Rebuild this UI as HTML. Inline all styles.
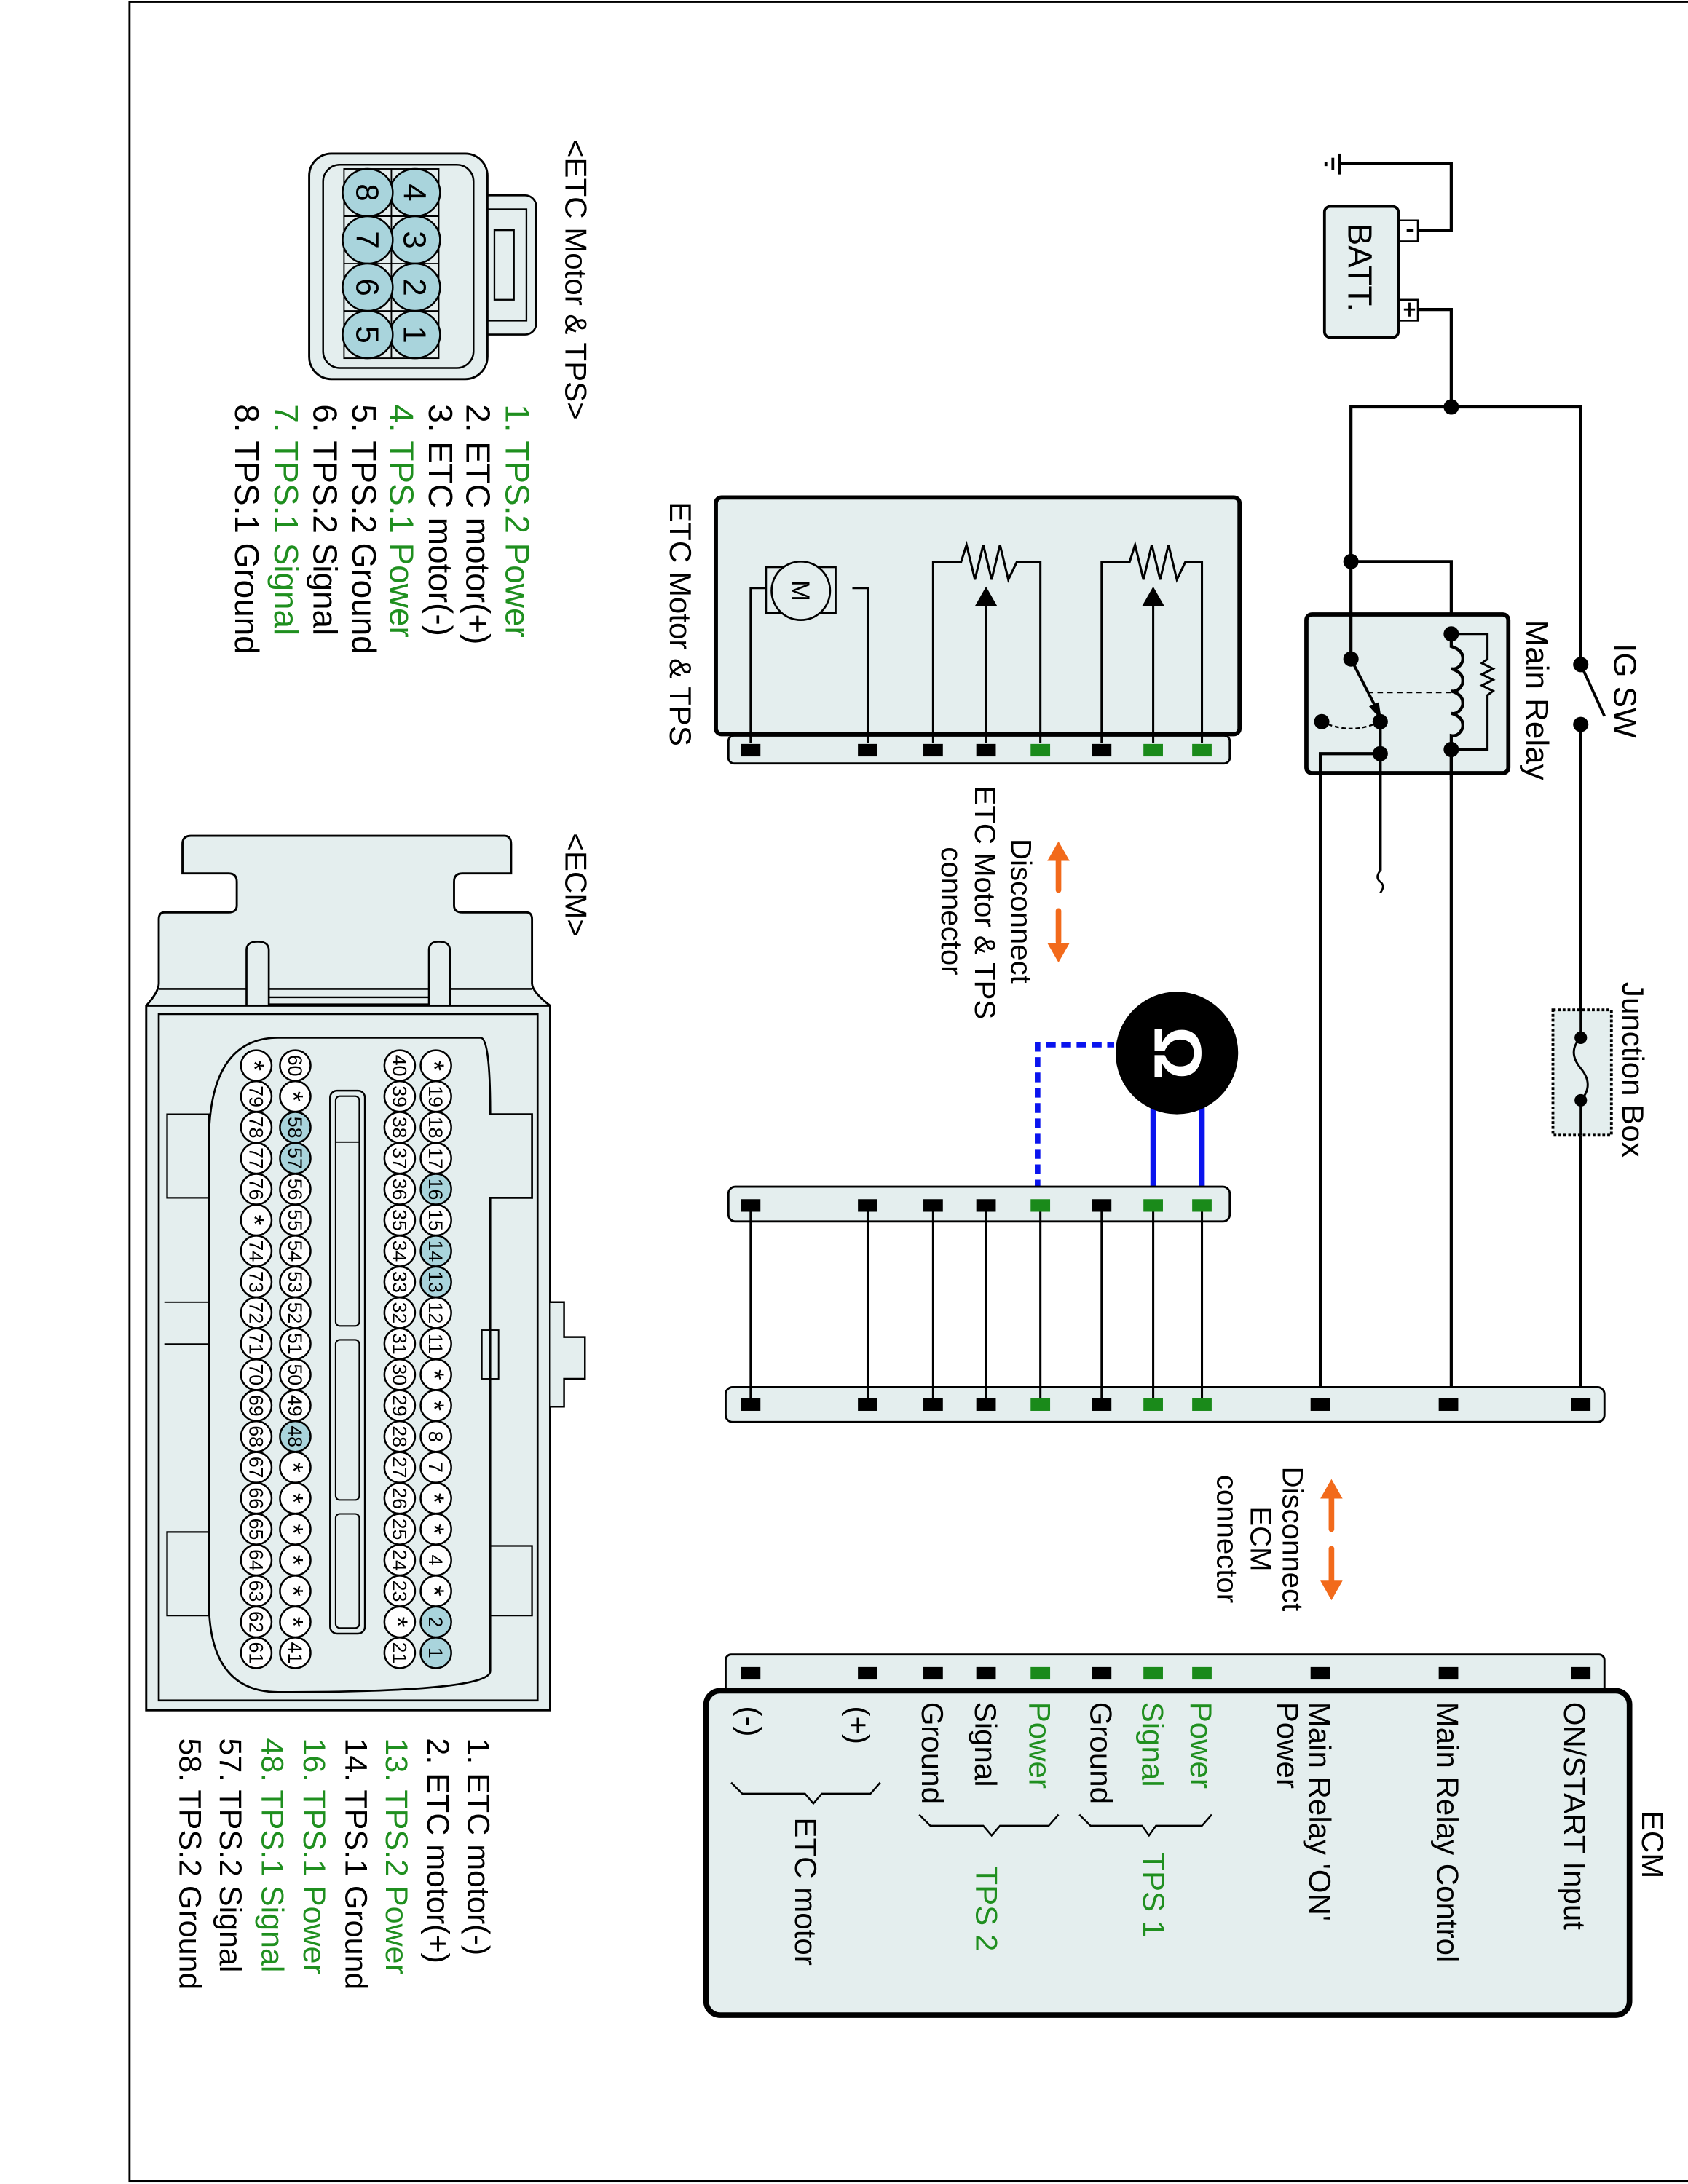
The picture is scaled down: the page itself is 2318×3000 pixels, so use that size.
<!DOCTYPE html>
<html><head><meta charset="utf-8"><style>
html,body{margin:0;padding:0;background:#fff}
svg{display:block}
text{font-family:"Liberation Sans",Arial,sans-serif;fill:#000}
.g{fill:#1f8f1f}
.pn{font-size:14px;text-anchor:middle}
.w{stroke:#000;stroke-width:1.6;fill:none}
.W{stroke:#000;stroke-width:2.2;fill:none}
.bx{fill:#e4eeee;stroke:#000}
</style></head><body>
<svg width="2318" height="3000" viewBox="0 0 1212 1568" xmlns="http://www.w3.org/2000/svg">
<rect x="0" y="0" width="1212" height="1568" fill="#fff"/>
<rect x="93" y="1" width="1130" height="1565" fill="none" stroke="#000" stroke-width="1.5"/>

<!-- ===== ETC connector pictorial ===== -->
<text transform="translate(406,100) rotate(90)" font-size="22">&lt;ETC Motor &amp; TPS&gt;</text>
<rect x="340" y="140" width="45" height="100" rx="8" class="bx" stroke-width="1.4"/>
<rect x="350" y="150" width="28" height="80" fill="none" stroke="#000" stroke-width="1.2"/>
<rect x="355" y="165" width="14" height="50" fill="none" stroke="#000" stroke-width="1.2"/>
<rect x="222" y="110" width="128" height="162" rx="16" class="bx" stroke-width="1.5"/>
<rect x="232" y="118" width="108" height="146" rx="12" fill="none" stroke="#000" stroke-width="1.3"/>
<rect x="247" y="121" width="68" height="136" fill="none" stroke="#000" stroke-width="1"/>
<line x1="281" y1="121" x2="281" y2="257" stroke="#000"/>
<line x1="247" y1="155" x2="315" y2="155" stroke="#000"/>
<line x1="247" y1="189" x2="315" y2="189" stroke="#000"/>
<line x1="247" y1="223" x2="315" y2="223" stroke="#000"/>
<g fill="#a9d4dc" stroke="#000" stroke-width="1.3">
<ellipse cx="298" cy="138" rx="18" ry="17"/><ellipse cx="298" cy="172" rx="18" ry="17"/><ellipse cx="298" cy="206" rx="18" ry="17"/><ellipse cx="298" cy="240" rx="18" ry="17"/>
<ellipse cx="264" cy="138" rx="18" ry="17"/><ellipse cx="264" cy="172" rx="18" ry="17"/><ellipse cx="264" cy="206" rx="18" ry="17"/><ellipse cx="264" cy="240" rx="18" ry="17"/>
</g>
<g font-size="23" text-anchor="middle">
<text transform="translate(298,138) rotate(90)" dy="8">4</text><text transform="translate(298,172) rotate(90)" dy="8">3</text><text transform="translate(298,206) rotate(90)" dy="8">2</text><text transform="translate(298,240) rotate(90)" dy="8">1</text>
<text transform="translate(264,138) rotate(90)" dy="8">8</text><text transform="translate(264,172) rotate(90)" dy="8">7</text><text transform="translate(264,206) rotate(90)" dy="8">6</text><text transform="translate(264,240) rotate(90)" dy="8">5</text>
</g>
<g font-size="24">
<text class="g" transform="translate(363,290) rotate(90)">1. TPS.2 Power</text>
<text transform="translate(335,290) rotate(90)">2. ETC motor(+)</text>
<text transform="translate(308,290) rotate(90)">3. ETC motor(-)</text>
<text class="g" transform="translate(280,290) rotate(90)">4. TPS.1 Power</text>
<text transform="translate(253,290) rotate(90)">5. TPS.2 Ground</text>
<text transform="translate(225,290) rotate(90)">6. TPS.2 Signal</text>
<text class="g" transform="translate(197,290) rotate(90)">7. TPS.1 Signal</text>
<text transform="translate(169,290) rotate(90)">8. TPS.1 Ground</text>
</g>

<!-- ===== ECM connector pictorial ===== -->
<text transform="translate(406,598) rotate(90)" font-size="22">&lt;ECM&gt;</text>
<path d="M137,600 H362 Q367,600 367,606 V627 H332 Q326,627 326,633 V650 Q326,655 332,655 H378 Q382,655 382,660 V706 Q382,712 395,722 V1228 H105 V722 Q114,712 114,706 V660 Q114,655 118,655 H164 Q170,655 170,650 V633 Q170,627 164,627 H131 V606 Q131,600 137,600 Z" class="bx" stroke-width="1.5"/>
<line x1="114" y1="710" x2="382" y2="710" stroke="#000" stroke-width="1.4"/>
<line x1="193" y1="716" x2="308" y2="716" stroke="#000" stroke-width="1.2"/>
<line x1="193" y1="721" x2="308" y2="721" stroke="#000" stroke-width="1.2"/>
<path d="M177,722 V682 Q177,676 185,676 Q193,676 193,682 V722" class="bx" stroke-width="1.4"/>
<path d="M308,722 V682 Q308,676 315,676 Q323,676 323,682 V722" class="bx" stroke-width="1.4"/>
<rect x="105" y="722" width="290" height="506" class="bx" stroke-width="1.5"/>
<rect x="114" y="728" width="272" height="493" fill="none" stroke="#000" stroke-width="1.4"/>
<path d="M395,935 H405 V960 H420 V990 H405 V1010 H395" class="bx" stroke-width="1.3"/>
<path d="M345,745 Q352,745 352,800 H382 V860 H352 V1200 Q352,1215 200,1215 Q150,1215 150,1150 V820 Q150,745 200,745 Z" fill="none" stroke="#000" stroke-width="1.4"/>
<path d="M120,800 H150 V860 H120 Z M120,1100 H150 V1160 H120 Z M352,1110 H382 V1160 H352 Z" fill="none" stroke="#000" stroke-width="1.2"/>
<path d="M118,935 H150 V965 H118" fill="none" stroke="#000" stroke-width="1"/>
<rect x="346" y="955" width="12" height="35" fill="none" stroke="#000" stroke-width="1"/>
<rect x="237" y="783" width="25" height="390" rx="5" fill="none" stroke="#000" stroke-width="1.3"/>
<rect x="241" y="787" width="17" height="165" rx="3" fill="none" stroke="#000" stroke-width="1.1"/>
<rect x="241" y="962" width="17" height="115" rx="3" fill="none" stroke="#000" stroke-width="1.1"/>
<rect x="241" y="1087" width="17" height="82" rx="3" fill="none" stroke="#000" stroke-width="1.1"/>
<line x1="241" y1="820" x2="258" y2="820" stroke="#000"/>

<g stroke="#000" stroke-width="1.3">
<g fill="#fff"><circle cx="313" cy="765" r="11"/><circle cx="313" cy="787.2" r="11"/><circle cx="313" cy="809.4" r="11"/><circle cx="313" cy="831.6" r="11"/></g>
<circle cx="313" cy="853.8" r="11" fill="#a9d4dc"/><circle cx="313" cy="876" r="11" fill="#fff"/>
<circle cx="313" cy="898.2" r="11" fill="#a9d4dc"/><circle cx="313" cy="920.4" r="11" fill="#a9d4dc"/>
<g fill="#fff"><circle cx="313" cy="942.6" r="11"/><circle cx="313" cy="964.8" r="11"/><circle cx="313" cy="987" r="11"/><circle cx="313" cy="1009.2" r="11"/><circle cx="313" cy="1031.4" r="11"/><circle cx="313" cy="1053.6" r="11"/><circle cx="313" cy="1075.8" r="11"/><circle cx="313" cy="1098" r="11"/><circle cx="313" cy="1120.2" r="11"/><circle cx="313" cy="1142.4" r="11"/></g>
<circle cx="313" cy="1164.6" r="11" fill="#a9d4dc"/><circle cx="313" cy="1186.8" r="11" fill="#a9d4dc"/>
<g fill="#fff"><circle cx="287" cy="765" r="11"/><circle cx="287" cy="787.2" r="11"/><circle cx="287" cy="809.4" r="11"/><circle cx="287" cy="831.6" r="11"/><circle cx="287" cy="853.8" r="11"/><circle cx="287" cy="876" r="11"/><circle cx="287" cy="898.2" r="11"/><circle cx="287" cy="920.4" r="11"/><circle cx="287" cy="942.6" r="11"/><circle cx="287" cy="964.8" r="11"/><circle cx="287" cy="987" r="11"/><circle cx="287" cy="1009.2" r="11"/><circle cx="287" cy="1031.4" r="11"/><circle cx="287" cy="1053.6" r="11"/><circle cx="287" cy="1075.8" r="11"/><circle cx="287" cy="1098" r="11"/><circle cx="287" cy="1120.2" r="11"/><circle cx="287" cy="1142.4" r="11"/><circle cx="287" cy="1164.6" r="11"/><circle cx="287" cy="1186.8" r="11"/></g>
<g fill="#fff"><circle cx="212" cy="765" r="11"/><circle cx="212" cy="787.2" r="11"/></g>
<circle cx="212" cy="809.4" r="11" fill="#a9d4dc"/><circle cx="212" cy="831.6" r="11" fill="#a9d4dc"/>
<g fill="#fff"><circle cx="212" cy="853.8" r="11"/><circle cx="212" cy="876" r="11"/><circle cx="212" cy="898.2" r="11"/><circle cx="212" cy="920.4" r="11"/><circle cx="212" cy="942.6" r="11"/><circle cx="212" cy="964.8" r="11"/><circle cx="212" cy="987" r="11"/><circle cx="212" cy="1009.2" r="11"/></g>
<circle cx="212" cy="1031.4" r="11" fill="#a9d4dc"/>
<g fill="#fff"><circle cx="212" cy="1053.6" r="11"/><circle cx="212" cy="1075.8" r="11"/><circle cx="212" cy="1098" r="11"/><circle cx="212" cy="1120.2" r="11"/><circle cx="212" cy="1142.4" r="11"/><circle cx="212" cy="1164.6" r="11"/><circle cx="212" cy="1186.8" r="11"/></g>
<g fill="#fff"><circle cx="184" cy="765" r="11"/><circle cx="184" cy="787.2" r="11"/><circle cx="184" cy="809.4" r="11"/><circle cx="184" cy="831.6" r="11"/><circle cx="184" cy="853.8" r="11"/><circle cx="184" cy="876" r="11"/><circle cx="184" cy="898.2" r="11"/><circle cx="184" cy="920.4" r="11"/><circle cx="184" cy="942.6" r="11"/><circle cx="184" cy="964.8" r="11"/><circle cx="184" cy="987" r="11"/><circle cx="184" cy="1009.2" r="11"/><circle cx="184" cy="1031.4" r="11"/><circle cx="184" cy="1053.6" r="11"/><circle cx="184" cy="1075.8" r="11"/><circle cx="184" cy="1098" r="11"/><circle cx="184" cy="1120.2" r="11"/><circle cx="184" cy="1142.4" r="11"/><circle cx="184" cy="1164.6" r="11"/><circle cx="184" cy="1186.8" r="11"/></g>
</g>
<g class="pn">
<text transform="translate(313,765) rotate(90)" dy="8" font-size="20">*</text><text transform="translate(313,787.2) rotate(90)" dy="5">19</text><text transform="translate(313,809.4) rotate(90)" dy="5">18</text><text transform="translate(313,831.6) rotate(90)" dy="5">17</text><text transform="translate(313,853.8) rotate(90)" dy="5">16</text><text transform="translate(313,876) rotate(90)" dy="5">15</text><text transform="translate(313,898.2) rotate(90)" dy="5">14</text><text transform="translate(313,920.4) rotate(90)" dy="5">13</text><text transform="translate(313,942.6) rotate(90)" dy="5">12</text><text transform="translate(313,964.8) rotate(90)" dy="5">11</text><text transform="translate(313,987) rotate(90)" dy="8" font-size="20">*</text><text transform="translate(313,1009.2) rotate(90)" dy="8" font-size="20">*</text><text transform="translate(313,1031.4) rotate(90)" dy="5">8</text><text transform="translate(313,1053.6) rotate(90)" dy="5">7</text><text transform="translate(313,1075.8) rotate(90)" dy="8" font-size="20">*</text><text transform="translate(313,1098) rotate(90)" dy="8" font-size="20">*</text><text transform="translate(313,1120.2) rotate(90)" dy="5">4</text><text transform="translate(313,1142.4) rotate(90)" dy="8" font-size="20">*</text><text transform="translate(313,1164.6) rotate(90)" dy="5">2</text><text transform="translate(313,1186.8) rotate(90)" dy="5">1</text>
<text transform="translate(287,765) rotate(90)" dy="5">40</text><text transform="translate(287,787.2) rotate(90)" dy="5">39</text><text transform="translate(287,809.4) rotate(90)" dy="5">38</text><text transform="translate(287,831.6) rotate(90)" dy="5">37</text><text transform="translate(287,853.8) rotate(90)" dy="5">36</text><text transform="translate(287,876) rotate(90)" dy="5">35</text><text transform="translate(287,898.2) rotate(90)" dy="5">34</text><text transform="translate(287,920.4) rotate(90)" dy="5">33</text><text transform="translate(287,942.6) rotate(90)" dy="5">32</text><text transform="translate(287,964.8) rotate(90)" dy="5">31</text><text transform="translate(287,987) rotate(90)" dy="5">30</text><text transform="translate(287,1009.2) rotate(90)" dy="5">29</text><text transform="translate(287,1031.4) rotate(90)" dy="5">28</text><text transform="translate(287,1053.6) rotate(90)" dy="5">27</text><text transform="translate(287,1075.8) rotate(90)" dy="5">26</text><text transform="translate(287,1098) rotate(90)" dy="5">25</text><text transform="translate(287,1120.2) rotate(90)" dy="5">24</text><text transform="translate(287,1142.4) rotate(90)" dy="5">23</text><text transform="translate(287,1164.6) rotate(90)" dy="8" font-size="20">*</text><text transform="translate(287,1186.8) rotate(90)" dy="5">21</text>
<text transform="translate(212,765) rotate(90)" dy="5">60</text><text transform="translate(212,787.2) rotate(90)" dy="8" font-size="20">*</text><text transform="translate(212,809.4) rotate(90)" dy="5">58</text><text transform="translate(212,831.6) rotate(90)" dy="5">57</text><text transform="translate(212,853.8) rotate(90)" dy="5">56</text><text transform="translate(212,876) rotate(90)" dy="5">55</text><text transform="translate(212,898.2) rotate(90)" dy="5">54</text><text transform="translate(212,920.4) rotate(90)" dy="5">53</text><text transform="translate(212,942.6) rotate(90)" dy="5">52</text><text transform="translate(212,964.8) rotate(90)" dy="5">51</text><text transform="translate(212,987) rotate(90)" dy="5">50</text><text transform="translate(212,1009.2) rotate(90)" dy="5">49</text><text transform="translate(212,1031.4) rotate(90)" dy="5">48</text><text transform="translate(212,1053.6) rotate(90)" dy="8" font-size="20">*</text><text transform="translate(212,1075.8) rotate(90)" dy="8" font-size="20">*</text><text transform="translate(212,1098) rotate(90)" dy="8" font-size="20">*</text><text transform="translate(212,1120.2) rotate(90)" dy="8" font-size="20">*</text><text transform="translate(212,1142.4) rotate(90)" dy="8" font-size="20">*</text><text transform="translate(212,1164.6) rotate(90)" dy="8" font-size="20">*</text><text transform="translate(212,1186.8) rotate(90)" dy="5">41</text>
<text transform="translate(184,765) rotate(90)" dy="8" font-size="20">*</text><text transform="translate(184,787.2) rotate(90)" dy="5">79</text><text transform="translate(184,809.4) rotate(90)" dy="5">78</text><text transform="translate(184,831.6) rotate(90)" dy="5">77</text><text transform="translate(184,853.8) rotate(90)" dy="5">76</text><text transform="translate(184,876) rotate(90)" dy="8" font-size="20">*</text><text transform="translate(184,898.2) rotate(90)" dy="5">74</text><text transform="translate(184,920.4) rotate(90)" dy="5">73</text><text transform="translate(184,942.6) rotate(90)" dy="5">72</text><text transform="translate(184,964.8) rotate(90)" dy="5">71</text><text transform="translate(184,987) rotate(90)" dy="5">70</text><text transform="translate(184,1009.2) rotate(90)" dy="5">69</text><text transform="translate(184,1031.4) rotate(90)" dy="5">68</text><text transform="translate(184,1053.6) rotate(90)" dy="5">67</text><text transform="translate(184,1075.8) rotate(90)" dy="5">66</text><text transform="translate(184,1098) rotate(90)" dy="5">65</text><text transform="translate(184,1120.2) rotate(90)" dy="5">64</text><text transform="translate(184,1142.4) rotate(90)" dy="5">63</text><text transform="translate(184,1164.6) rotate(90)" dy="5">62</text><text transform="translate(184,1186.8) rotate(90)" dy="5">61</text>
</g>
<g font-size="22.5">
<text transform="translate(336,1248) rotate(90)">1. ETC motor(-)</text>
<text transform="translate(307,1248) rotate(90)">2. ETC motor(+)</text>
<text class="g" transform="translate(277,1248) rotate(90)">13. TPS.2 Power</text>
<text transform="translate(248,1248) rotate(90)">14. TPS.1 Ground</text>
<text class="g" transform="translate(218,1248) rotate(90)">16. TPS.1 Power</text>
<text class="g" transform="translate(188,1248) rotate(90)">48. TPS.1 Signal</text>
<text transform="translate(158,1248) rotate(90)">57. TPS.2 Signal</text>
<text transform="translate(129,1248) rotate(90)">58. TPS.2 Ground</text>
</g>

<!-- ===== Battery / relay ===== -->
<path class="W" d="M1018,165 H1042 V117 H962"/>
<line x1="962" y1="110" x2="962" y2="125" stroke="#000" stroke-width="2.2"/>
<line x1="957" y1="113" x2="957" y2="122" stroke="#000" stroke-width="2"/>
<line x1="952" y1="116" x2="952" y2="119" stroke="#000" stroke-width="2"/>
<rect x="1004" y="158" width="14" height="15" fill="#fff" stroke="#000" stroke-width="1.3"/>
<rect x="1004" y="215" width="14" height="15" fill="#fff" stroke="#000" stroke-width="1.3"/>
<line x1="1010" y1="165" x2="1015" y2="165" stroke="#000" stroke-width="2"/>
<path d="M1008,222 H1016 M1012,217 V227" stroke="#000" stroke-width="1.5"/>
<rect x="951" y="148" width="53" height="94" rx="4" class="bx" stroke-width="2"/>
<text transform="translate(968,160) rotate(90)" font-size="24">BATT.</text>
<path class="W" d="M1018,222 H1042 V292"/>
<path class="W" d="M970,403 V292 H1135 V477"/>
<circle cx="1042" cy="292" r="5.5"/>
<path class="W" d="M970,403 H1042 V455"/>
<circle cx="970" cy="403" r="5.5"/>
<rect x="938" y="441" width="145" height="114" rx="4" class="bx" stroke-width="3"/>
<path class="W" d="M970,403 V473"/>
<path class="W" d="M1042,455 V464 Q1052,467 1050,475 Q1047,481 1042,480 Q1052,483 1050,491 Q1047,497 1042,496 Q1052,499 1050,507 Q1047,513 1042,512 Q1052,515 1050,523 Q1047,529 1042,528 V560"/>
<path d="M1042,455 H1068 V473 L1064,476 L1072,480 L1064,484 L1072,488 L1064,492 L1072,496 L1068,499 V538 H1042" fill="none" stroke="#000" stroke-width="1.6"/>
<circle cx="1042" cy="455" r="5.5"/><circle cx="1042" cy="538" r="5.5"/>
<line x1="982" y1="497" x2="1042" y2="497" stroke="#000" stroke-width="1.2" stroke-dasharray="4,3"/>
<circle cx="970" cy="473" r="5.5"/>
<line x1="970" y1="473" x2="988" y2="508" stroke="#000" stroke-width="2"/>
<polygon points="992,517 983,507 990,504" fill="#000"/>
<circle cx="991" cy="518" r="5.5"/><circle cx="991" cy="541" r="5.5"/><circle cx="949" cy="518" r="5.5"/>
<path d="M949,518 Q970,528 991,518" fill="none" stroke="#000" stroke-width="1.2" stroke-dasharray="3,2"/>
<path class="W" d="M991,518 V625"/>
<path d="M991,625 Q987,630 991,633 Q995,636 991,641" fill="none" stroke="#000" stroke-width="1.4"/>
<path class="W" d="M991,541 H948 V1008"/>
<path class="W" d="M1042,538 V1008"/>
<text transform="translate(1096,445) rotate(90)" font-size="23">Main Relay</text>
<circle cx="1135" cy="477" r="5.5"/><circle cx="1135" cy="520" r="5.5"/>
<line x1="1135" y1="477" x2="1152" y2="514" stroke="#000" stroke-width="2"/>
<text transform="translate(1159,462) rotate(90)" font-size="23">IG SW</text>
<path class="W" d="M1135,520 V1008"/>
<rect x="1115" y="725" width="42" height="90" fill="#e4eeee" stroke="#000" stroke-width="2" stroke-dasharray="2,1.5"/>
<line x1="1135" y1="725" x2="1135" y2="815" stroke="#000" stroke-width="1.6"/>
<rect x="1130" y="748" width="10" height="40" fill="#e4eeee"/>
<path d="M1135,745 Q1125,755 1135,767 Q1145,779 1135,790" fill="none" stroke="#000" stroke-width="1.5"/>
<circle cx="1135" cy="745" r="4.5"/><circle cx="1135" cy="790" r="4.5"/>
<text transform="translate(1165,705) rotate(90)" font-size="22">Junction Box</text>

<!-- ===== ETC Motor & TPS component ===== -->
<text transform="translate(481,360) rotate(90)" font-size="22">ETC Motor &amp; TPS</text>
<rect x="523" y="528" width="360" height="20" rx="4" class="bx" stroke-width="1.5"/>
<rect x="514" y="357" width="376" height="170" rx="4" class="bx" stroke-width="3"/>
<path class="w" d="M539,533 V422 H550 M612,422 H623 V533"/>
<rect x="550" y="407" width="50" height="33" fill="none" stroke="#000" stroke-width="1.4"/>
<circle cx="575" cy="424" r="21" fill="#e4eeee" stroke="#000" stroke-width="1.4"/>
<text transform="translate(575,424) rotate(90)" text-anchor="middle" dy="6" font-size="18">M</text>
<path class="w" d="M670,533 V403.5 H690 L694,391 L700,416 L706,391 L712,416 L718,391 L724,416 L730,403.5 H747 V533"/>
<path class="w" d="M708,533 V430"/>
<polygon points="708,421 700,435 716,435" fill="#000"/>
<path class="w" d="M791,533 V403.5 H811 L815,391 L821,416 L827,391 L833,416 L839,391 L845,416 L851,403.5 H863 V533"/>
<path class="w" d="M828,533 V430"/>
<polygon points="828,421 820,435 836,435" fill="#000"/>
<g fill="#000"><rect x="532" y="534" width="14" height="9"/><rect x="616" y="534" width="14" height="9"/><rect x="663" y="534" width="14" height="9"/><rect x="701" y="534" width="14" height="9"/><rect x="784" y="534" width="14" height="9"/></g>
<g fill="#1a8a1a"><rect x="740" y="534" width="14" height="9"/><rect x="821" y="534" width="14" height="9"/><rect x="856" y="534" width="14" height="9"/></g>

<!-- Disconnect ETC -->
<g fill="#f26a1b"><polygon points="760,604 752,618 768,618"/><rect x="758" y="615" width="4" height="26" rx="2"/><rect x="758" y="652" width="4" height="26" rx="2"/><polygon points="760,691 752,677 768,677"/></g>
<g font-size="21" text-anchor="middle">
<text transform="translate(726,654) rotate(90)">Disconnect</text>
<text transform="translate(700,648) rotate(90)">ETC Motor &amp; TPS</text>
<text transform="translate(676,654) rotate(90)">connector</text>
</g>

<!-- meter -->
<path d="M745,865 V750 H800" fill="none" stroke="#0a14ee" stroke-width="4" stroke-dasharray="7,4"/>
<line x1="828" y1="785" x2="828" y2="865" stroke="#0a14ee" stroke-width="4"/>
<line x1="863" y1="785" x2="863" y2="865" stroke="#0a14ee" stroke-width="4"/>
<circle cx="845" cy="756" r="44" fill="#000"/>
<text transform="translate(845,756) rotate(90)" text-anchor="middle" dy="16" font-size="48" font-weight="bold" style="fill:#fff">Ω</text>

<!-- middle connectors -->
<rect x="523" y="852" width="360" height="25" rx="5" class="bx" stroke-width="1.5"/>
<rect x="521" y="996" width="631" height="25" rx="5" class="bx" stroke-width="1.5"/>
<g stroke="#000" stroke-width="1.6">
<line x1="539" y1="865" x2="539" y2="1008"/><line x1="623" y1="865" x2="623" y2="1008"/><line x1="670" y1="865" x2="670" y2="1008"/><line x1="708" y1="865" x2="708" y2="1008"/><line x1="747" y1="865" x2="747" y2="1008"/><line x1="791" y1="865" x2="791" y2="1008"/><line x1="828" y1="865" x2="828" y2="1008"/><line x1="863" y1="865" x2="863" y2="1008"/>
</g>
<g fill="#000"><rect x="532" y="861" width="14" height="9"/><rect x="616" y="861" width="14" height="9"/><rect x="663" y="861" width="14" height="9"/><rect x="701" y="861" width="14" height="9"/><rect x="784" y="861" width="14" height="9"/>
<rect x="532" y="1004" width="14" height="9"/><rect x="616" y="1004" width="14" height="9"/><rect x="663" y="1004" width="14" height="9"/><rect x="701" y="1004" width="14" height="9"/><rect x="784" y="1004" width="14" height="9"/><rect x="941" y="1004" width="14" height="9"/><rect x="1033" y="1004" width="14" height="9"/><rect x="1128" y="1004" width="14" height="9"/></g>
<g fill="#1a8a1a"><rect x="740" y="861" width="14" height="9"/><rect x="821" y="861" width="14" height="9"/><rect x="856" y="861" width="14" height="9"/>
<rect x="740" y="1004" width="14" height="9"/><rect x="821" y="1004" width="14" height="9"/><rect x="856" y="1004" width="14" height="9"/></g>

<!-- Disconnect ECM -->
<g fill="#f26a1b"><polygon points="956,1062 948,1076 964,1076"/><rect x="954" y="1073" width="4" height="27" rx="2"/><rect x="954" y="1110" width="4" height="27" rx="2"/><polygon points="956,1149 948,1135 964,1135"/></g>
<g font-size="21" text-anchor="middle">
<text transform="translate(921,1105) rotate(90)">Disconnect</text>
<text transform="translate(898,1105) rotate(90)">ECM</text>
<text transform="translate(874,1105) rotate(90)">connector</text>
</g>

<!-- ECM -->
<rect x="521" y="1188" width="631" height="30" rx="4" class="bx" stroke-width="1.5"/>
<g fill="#000"><rect x="532" y="1197" width="14" height="9"/><rect x="616" y="1197" width="14" height="9"/><rect x="663" y="1197" width="14" height="9"/><rect x="701" y="1197" width="14" height="9"/><rect x="784" y="1197" width="14" height="9"/><rect x="941" y="1197" width="14" height="9"/><rect x="1033" y="1197" width="14" height="9"/><rect x="1128" y="1197" width="14" height="9"/></g>
<g fill="#1a8a1a"><rect x="740" y="1197" width="14" height="9"/><rect x="821" y="1197" width="14" height="9"/><rect x="856" y="1197" width="14" height="9"/></g>
<rect x="507" y="1214" width="663" height="233" rx="10" class="bx" stroke-width="4"/>
<text transform="translate(1179,1300) rotate(90)" font-size="22">ECM</text>
<g font-size="22">
<text transform="translate(1123,1222) rotate(90)">ON/START Input</text>
<text transform="translate(1032,1222) rotate(90)">Main Relay Control</text>
<text transform="translate(940,1222) rotate(90)">Main Relay 'ON'</text>
<text transform="translate(917,1222) rotate(90)">Power</text>
<text class="g" transform="translate(855,1222) rotate(90)">Power</text>
<text class="g" transform="translate(820,1222) rotate(90)">Signal</text>
<text transform="translate(783,1222) rotate(90)">Ground</text>
<text class="g" transform="translate(739,1222) rotate(90)">Power</text>
<text transform="translate(700,1222) rotate(90)">Signal</text>
<text transform="translate(662,1222) rotate(90)">Ground</text>
<text transform="translate(609,1225) rotate(90)">(+)</text>
<text transform="translate(531,1225) rotate(90)">(-)</text>
<text class="g" transform="translate(821,1330) rotate(90)">TPS 1</text>
<text class="g" transform="translate(701,1340) rotate(90)">TPS 2</text>
<text transform="translate(571,1305) rotate(90)">ETC motor</text>
</g>
<g fill="none" stroke="#000" stroke-width="1.3">
<path d="M870,1303 L863,1311 H830 L825,1318 L820,1311 H783 L775,1303"/>
<path d="M760,1303 L753,1311 H718 L712,1318 L706,1311 H668 L660,1303"/>
<path d="M632,1280 L625,1288 H590 L584,1295 L578,1288 H533 L525,1280"/>
</g>
</svg>
</body></html>
